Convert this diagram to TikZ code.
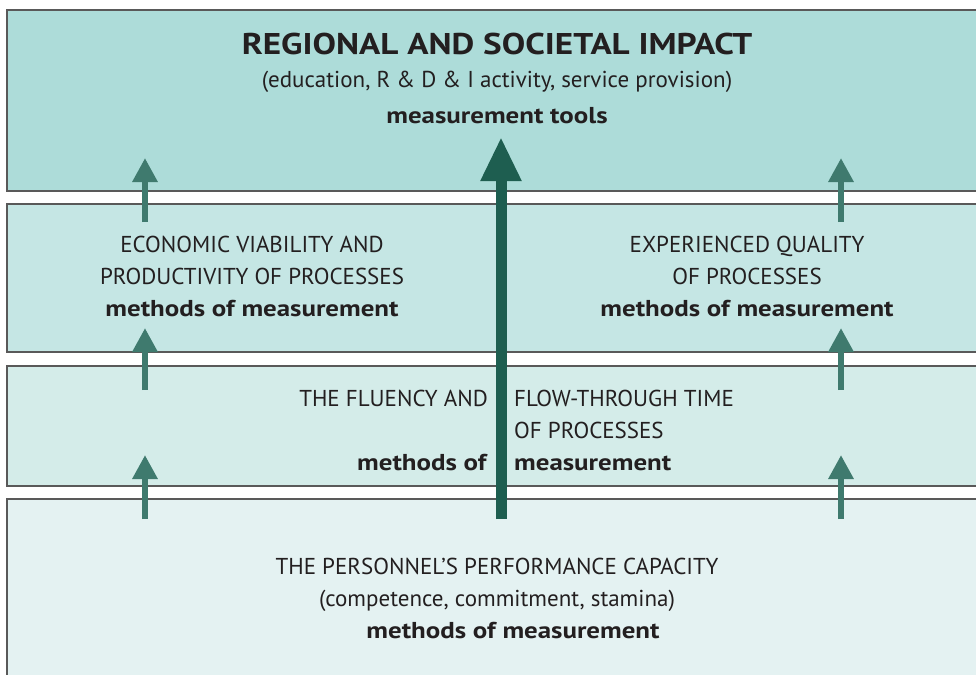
\documentclass[tikz,border=0pt]{standalone}
\usepackage{fontspec}
\setmainfont{PT Sans}[BoldFeatures={FakeStretch=1.17}]
\usetikzlibrary{arrows.meta}

\definecolor{layerA}{HTML}{ADDCD9}
\definecolor{layerB}{HTML}{C5E6E4}
\definecolor{layerC}{HTML}{D4ECE9}
\definecolor{layerD}{HTML}{E4F2F2}
\definecolor{arrowS}{HTML}{3F7A6E}
\definecolor{arrowB}{HTML}{1E5E50}
\definecolor{inkC}{HTML}{231F20}

\begin{document}
\begin{tikzpicture}[x=1pt,y=-1pt]
  \tikzstyle{layer} = [draw=gray!70!black,line width=1.2pt]
  \tikzstyle{txt}   = [text=inkC,align=center,inner sep=0pt,font=\fontsize{23}{32}\selectfont]
  \tikzstyle{small} = [arrowS,line width=6.5pt,-{Triangle[width=24pt,length=24pt]}]
  \tikzstyle{big}   = [arrowB,line width=11pt,-{Triangle[width=38pt,length=44pt]}]
  \useasboundingbox (0,0) rectangle (976,674);
  \clip (0,0) rectangle (976,674);
  % layers
  \fill[layerA] (7,10) rectangle (990,191);
  \fill[layerB] (7,204) rectangle (990,352);
  \fill[layerC] (7,366) rectangle (990,486);
  \fill[layerD] (7,499) rectangle (990,690);
  \draw[layer] (990,10) -- (7,10) -- (7,191) -- (990,191);
  \draw[layer] (990,204) -- (7,204) -- (7,352) -- (990,352);
  \draw[layer] (990,366) -- (7,366) -- (7,486) -- (990,486);
  \draw[layer] (990,499) -- (7,499) -- (7,690);
  % texts
  \node[txt,font=\fontsize{30}{36}\bfseries\selectfont] (impact) at (497,44) {REGIONAL AND SOCIETAL IMPACT};
  \node[txt] (impactsub) at (497,82) {(education, R \& D \& I activity, service provision)};
  \node[txt] (tools) at (497,116) {\textbf{measurement tools}};
  \node[txt] (econ) at (252,276) {ECONOMIC VIABILITY AND\\PRODUCTIVITY OF PROCESSES\\\textbf{methods of measurement}};
  \node[txt] (qual) at (747,276) {EXPERIENCED QUALITY\\OF PROCESSES\\\textbf{methods of measurement}};
  \node[txt,anchor=east,align=right] (flowL) at (488,430) {THE FLUENCY AND\\\\\textbf{methods of}};
  \node[txt,anchor=west,align=left] (flowR) at (514,430) {FLOW-THROUGH TIME\\OF PROCESSES\\\textbf{measurement}};
  \node[txt] (staff) at (497,598) {THE PERSONNEL’S PERFORMANCE CAPACITY\\(competence, commitment, stamina)\\\hspace*{32pt}\textbf{methods of measurement}};
  % arrows
  \coordinate (l1) at (145,222); \coordinate (l1t) at (145,158);
  \coordinate (l2) at (145,390); \coordinate (l2t) at (145,328);
  \coordinate (l3) at (145,519); \coordinate (l3t) at (145,455);
  \coordinate (r1) at (841,222); \coordinate (r1t) at (841,158);
  \coordinate (r2) at (841,390); \coordinate (r2t) at (841,328);
  \coordinate (r3) at (841,519); \coordinate (r3t) at (841,455);
  \coordinate (c0) at (501,519); \coordinate (ct) at (501,137);
  \draw[small] (l1) -- (l1t);
  \draw[small] (l2) -- (l2t);
  \draw[small] (l3) -- (l3t);
  \draw[small] (r1) -- (r1t);
  \draw[small] (r2) -- (r2t);
  \draw[small] (r3) -- (r3t);
  \draw[big] (c0) -- (ct);
\end{tikzpicture}
\end{document}
